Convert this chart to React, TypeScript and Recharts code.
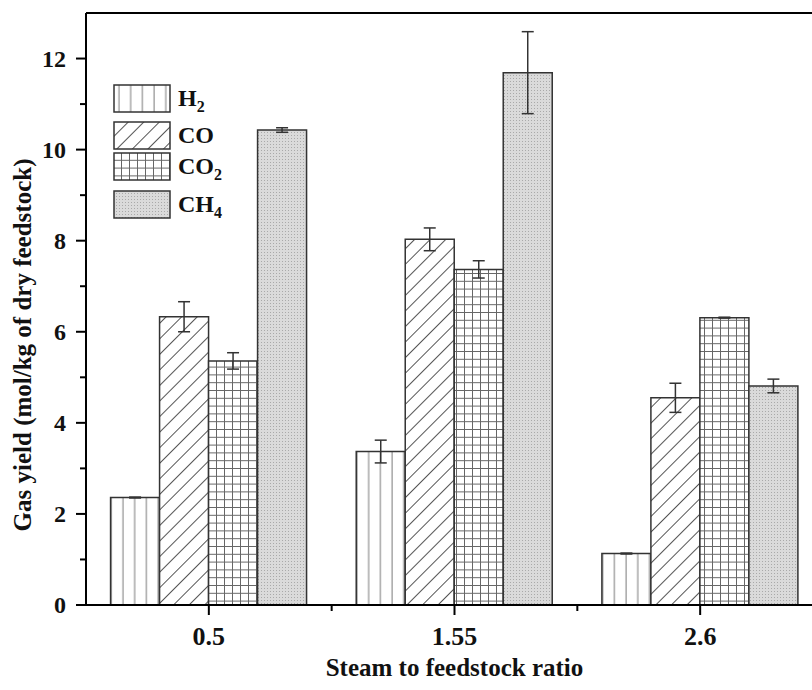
import React from 'react';
import { BarChart, Bar, XAxis, YAxis, ErrorBar, Legend, ReferenceLine } from 'recharts';

const categories = ['0.5', '1.55', '2.6'];
const seriesNames = ['H2', 'CO', 'CO2', 'CH4'];
const h2 = [2.36, 3.37, 1.13];
const h2Err = [0.01, 0.25, 0.01];
const co = [6.33, 8.03, 4.55];
const coErr = [0.33, 0.25, 0.32];
const co2 = [5.36, 7.37, 6.31];
const co2Err = [0.18, 0.19, 0.01];
const ch4 = [10.43, 11.69, 4.81];
const ch4Err = [0.05, 0.9, 0.15];
const yTicks = [0, 1, 2, 3, 4, 5, 6, 7, 8, 9, 10, 11, 12];
const yLabeled = [0, 2, 4, 6, 8, 10, 12];

const xTitle = 'Steam to feedstock ratio';
const yTitle = 'Gas yield (mol/kg of dry feedstock)';

const data = categories.map((c, i) => ({
  ratio: c,
  H2: h2[i], H2e: h2Err[i],
  CO: co[i], COe: coErr[i],
  CO2: co2[i], CO2e: co2Err[i],
  CH4: ch4[i], CH4e: ch4Err[i],
}));

const FONT = '"Liberation Serif", "Times New Roman", serif';
const INK = '#111';
const BAR_STROKE = '#333';

function Patterns({ prefix }: { prefix: string }) {
  return (
    <defs>
      <pattern id={`${prefix}-H2`} width={11.7} height={10} patternUnits="userSpaceOnUse">
        <rect width={11.7} height={10} fill="#fff" />
        <line x1={6} y1={0} x2={6} y2={10} stroke="#999" strokeWidth={1.3} />
      </pattern>
      <pattern id={`${prefix}-CO`} width={11} height={11} patternUnits="userSpaceOnUse" patternTransform="rotate(45)">
        <rect width={11} height={11} fill="#fff" />
        <line x1={0.5} y1={0} x2={0.5} y2={11} stroke="#555" strokeWidth={1} />
      </pattern>
      <pattern id={`${prefix}-CO2`} width={8} height={7.8} patternUnits="userSpaceOnUse">
        <rect width={8} height={7.8} fill="#fff" />
        <line x1={0} y1={0.5} x2={8} y2={0.5} stroke="#666" strokeWidth={1} />
        <line x1={0.5} y1={0} x2={0.5} y2={7.8} stroke="#666" strokeWidth={1} />
      </pattern>
      <pattern id={`${prefix}-CH4`} width={3} height={3} patternUnits="userSpaceOnUse">
        <rect width={3} height={3} fill="#dadada" />
        <rect width={1} height={1} fill="#a9a9a9" />
      </pattern>
    </defs>
  );
}

function splitName(name: string) {
  const m = name.match(/^([A-Za-z]+)(\d*)$/);
  if (!m) return <>{name}</>;
  return (
    <>
      {m[1]}
      {m[2] ? <sub style={{ fontSize: 16, position: 'relative', top: 6, verticalAlign: 'baseline', lineHeight: 0 }}>{m[2]}</sub> : null}
    </>
  );
}

function LegendContent() {
  const tops = [0, 37, 68, 106];
  return (
    <div style={{ fontFamily: FONT, position: 'relative', width: 140, height: 140 }}>
      <svg width={0} height={0} style={{ position: 'absolute' }}>
        <Patterns prefix="lg" />
      </svg>
      {seriesNames.map((n, i) => (
        <div key={n} style={{ position: 'absolute', left: 0, top: tops[i], display: 'flex', alignItems: 'center', height: 29 }}>
          <svg width={58} height={29} style={{ display: 'block' }}>
            <rect x={1} y={1} width={56} height={27} fill={`url(#lg-${n})`} stroke={BAR_STROKE} strokeWidth={1.5} />
          </svg>
          <span style={{ marginLeft: 7, fontSize: 24, fontWeight: 'bold', color: INK, lineHeight: '29px', whiteSpace: 'nowrap' }}>
            {splitName(n)}
          </span>
        </div>
      ))}
    </div>
  );
}

function YTick(props: any) {
  const { x, y, payload } = props;
  const axisX = x + 20;
  const major = yLabeled.includes(payload.value);
  return (
    <g>
      <line x1={axisX - (major ? 10 : 6)} y1={y} x2={axisX} y2={y} stroke="#000" strokeWidth={2} />
      {major ? (
        <text x={x} y={y} textAnchor="end" dominantBaseline="central" fontFamily={FONT} fontWeight="bold" fontSize={24} fill={INK}>
          {payload.value}
        </text>
      ) : null}
    </g>
  );
}

function XTick(props: any) {
  const { x, y, payload, index, width, visibleTicksCount } = props;
  const axisY = y - 20;
  const half = width && visibleTicksCount ? width / visibleTicksCount / 2 : 0;
  return (
    <g>
      <line x1={x} y1={axisY} x2={x} y2={axisY + 10} stroke="#000" strokeWidth={2} />
      {half && index < visibleTicksCount - 1 ? (
        <line x1={x + half} y1={axisY} x2={x + half} y2={axisY + 6} stroke="#000" strokeWidth={2} />
      ) : null}
      <text x={x} y={y + 2} textAnchor="middle" dominantBaseline="hanging" fontFamily={FONT} fontWeight="bold" fontSize={26} fill={INK}>
        {payload.value}
      </text>
    </g>
  );
}

function YTitle(props: any) {
  const vb = props.viewBox || { x: 0, y: 13, width: 86, height: 592 };
  const cx = vb.x + 22;
  const cy = vb.y + vb.height / 2 + 36;
  return (
    <text x={cx} y={cy} transform={`rotate(-90 ${cx} ${cy})`} textAnchor="middle" dominantBaseline="central" fontFamily={FONT} fontWeight="bold" fontSize={25} fill={INK}>
      {yTitle}
    </text>
  );
}

function XTitle(props: any) {
  const vb = props.viewBox || { x: 86, y: 605, width: 737, height: 85 };
  const cx = vb.x + vb.width / 2;
  const cy = vb.y + 62;
  return (
    <text x={cx} y={cy} textAnchor="middle" dominantBaseline="central" fontFamily={FONT} fontWeight="bold" fontSize={25} fill={INK}>
      {xTitle}
    </text>
  );
}

export default function App() {
  return (
    <div style={{ position: 'absolute', left: 0, top: 0, width: 812, height: 690, overflow: 'hidden', background: '#fff' }}>
      <BarChart
        width={840}
        height={690}
        data={data}
        margin={{ top: 13, right: 17, left: 0, bottom: 0 }}
        barCategoryGap="10%"
        barGap={0}
      >
        <Patterns prefix="pt" />
        <XAxis
          dataKey="ratio"
          height={85}
          axisLine={{ stroke: '#000', strokeWidth: 2 }}
          tickLine={false}
          tickSize={10}
          tickMargin={10}
          tick={<XTick />}
          label={<XTitle />}
          interval={0}
        />
        <YAxis
          width={86}
          domain={[0, 13]}
          ticks={yTicks}
          interval={0}
          allowDataOverflow
          axisLine={{ stroke: '#000', strokeWidth: 2 }}
          tickLine={false}
          tickSize={10}
          tickMargin={10}
          tick={<YTick />}
          label={<YTitle />}
        />
        <ReferenceLine y={13} stroke="#000" strokeWidth={2} />
        <Legend
          layout="horizontal"
          verticalAlign="middle"
          align="center"
          content={<LegendContent />}
          wrapperStyle={{ position: 'absolute', left: 113, top: 84, width: 'auto' }}
        />
        {seriesNames.map((n) => (
          <Bar key={n} dataKey={n} fill={`url(#pt-${n})`} stroke={BAR_STROKE} strokeWidth={1.5} isAnimationActive={false}>
            <ErrorBar dataKey={`${n}e`} width={6} stroke="#333" strokeWidth={1.5} />
          </Bar>
        ))}
      </BarChart>
    </div>
  );
}
